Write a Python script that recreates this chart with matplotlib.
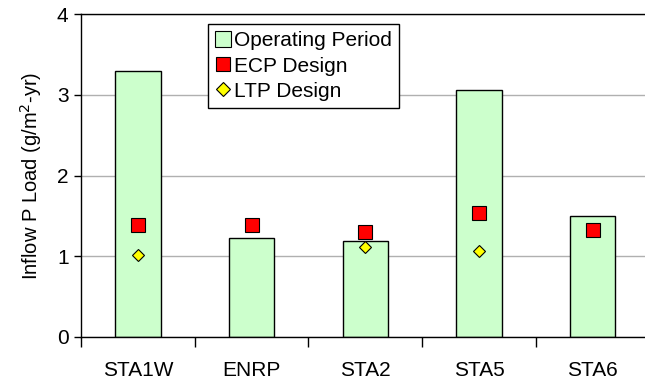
import matplotlib.pyplot as plt
import numpy as np
from matplotlib.lines import Line2D
from matplotlib.patches import Patch

plt.rcParams["font.family"] = ["Liberation Sans", "DejaVu Sans"]

# dados
estacoes = ["STA1W", "ENRP", "STA2", "STA5", "STA6"]
operating_period = [3.29, 1.23, 1.185, 3.055, 1.50]
ecp_design = [1.39, 1.39, 1.30, 1.53, 1.33]
ltp_design = [1.01, None, 1.11, 1.06, None]

fig = plt.figure(figsize=(6.45, 3.81), dpi=100)
ax = fig.add_axes([81 / 645, 44 / 381, 568.5 / 645, 323 / 381])

x = np.arange(len(estacoes))

ax.bar(x, operating_period, width=0.4, color="#CCFFCC", edgecolor="black",
       linewidth=1, zorder=2)

ax.plot(x, ecp_design, linestyle="none", marker="s", markersize=9.5,
        markerfacecolor="#FF0000", markeredgecolor="black", markeredgewidth=0.8,
        zorder=3)

ltp_x = [i for i, v in zip(x, ltp_design) if v is not None]
ltp_y = [v for v in ltp_design if v is not None]
ax.plot(ltp_x, ltp_y, linestyle="none", marker="D", markersize=6.5,
        markerfacecolor="#FFFF00", markeredgecolor="black", markeredgewidth=0.8,
        zorder=3)

ax.set_xlim(-0.5, len(estacoes) - 0.5)
ax.set_ylim(0, 4)
ax.set_yticks([0, 1, 2, 3, 4])
ax.yaxis.grid(True, color="#B0B0B0", linewidth=1, zorder=0)
ax.set_axisbelow(True)

ax.set_xticks(np.arange(-0.5, len(estacoes), 1.0))
ax.set_xticklabels([])
ax.set_xticks(x, minor=True)
ax.set_xticklabels(estacoes, minor=True)
ax.tick_params(axis="x", which="major", direction="out", length=7, width=1)
ax.tick_params(axis="x", which="minor", length=0, pad=17, labelsize=15)
ax.tick_params(axis="y", direction="out", length=5, width=1, labelsize=15, pad=4)

ax.set_ylabel("Inflow P Load (g/m$^2$-yr)", fontsize=14.5, labelpad=9)

for side in ["left", "bottom", "top"]:
    ax.spines[side].set_color("black")
    ax.spines[side].set_linewidth(1)
ax.spines["right"].set_visible(False)

handles = [
    Patch(facecolor="#CCFFCC", edgecolor="black", linewidth=0.8),
    Line2D([], [], linestyle="none", marker="s", markersize=10,
           markerfacecolor="#FF0000", markeredgecolor="black", markeredgewidth=0.8),
    Line2D([], [], linestyle="none", marker="D", markersize=7,
           markerfacecolor="#FFFF00", markeredgecolor="black", markeredgewidth=0.8),
]
leg = ax.legend(handles, ["Operating Period", "ECP Design", "LTP Design"],
                loc="upper left", bbox_to_anchor=((208 - 81) / 568.5, (337 - 24) / 323),
                borderaxespad=0, fontsize=15, frameon=True, fancybox=False,
                edgecolor="black", framealpha=1, handlelength=0.75, handleheight=0.75,
                handletextpad=0.15, labelspacing=0.3, borderpad=0.35)
leg.get_frame().set_linewidth(1)

fig.savefig("out.png", dpi=100)
